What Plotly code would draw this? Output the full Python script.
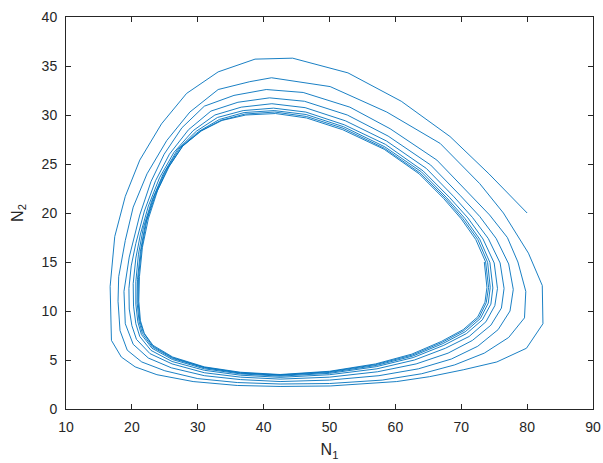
import plotly.graph_objects as go

# Trajectory (N1, N2), one list per revolution
loop1 = [(80.0, 20.0), (74.2, 24.0), (68.3, 27.8), (60.9, 31.4), (52.8, 34.3), (44.4, 35.8),
         (38.7, 35.7), (33.1, 34.4), (28.3, 32.2), (24.5, 29.1), (21.2, 25.4), (19.0, 21.7),
         (17.4, 17.6), (16.7, 12.5), (16.9, 7.0), (18.4, 5.3), (20.5, 4.3), (23.8, 3.5),
         (29.3, 2.8), (36.0, 2.4), (42.5, 2.3), (50.1, 2.35), (60.2, 2.8), (65.2, 3.3),
         (70.3, 4.0), (75.4, 4.8), (79.9, 6.2), (82.4, 8.7), (82.3, 12.6), (80.2, 15.9)]
loop2 = [(76.4, 20.0), (72.8, 23.0), (66.8, 27.1), (58.7, 30.3), (50.1, 32.9), (41.2, 33.8),
         (37.9, 33.4), (33.1, 32.6), (28.8, 30.3), (25.3, 27.4), (22.3, 24.0), (20.2, 20.6),
         (19.0, 17.2), (18.0, 13.5), (17.9, 11.0), (18.2, 8.0), (19.3, 6.0), (21.5, 4.8),
         (25.0, 3.9), (30.0, 3.1), (36.0, 2.7), (42.5, 2.55), (50.0, 2.6), (58.0, 2.95),
         (64.0, 3.6), (69.0, 4.5), (73.5, 5.7), (77.2, 7.3), (79.6, 9.3), (79.8, 12.0), (78.6, 15.0)]
loop3 = [(77.0, 17.5), (74.3, 19.8), (71.3, 21.9), (66.3, 25.4), (59.2, 28.6), (53.1, 30.8),
         (46.0, 32.3), (40.4, 32.6), (35.5, 32.0), (31.0, 30.9), (27.6, 28.7), (24.9, 26.0),
         (22.9, 23.2), (21.2, 19.8), (19.6, 15.5), (18.8, 12.0), (19.0, 8.7), (20.2, 6.6),
         (22.5, 5.2), (26.0, 4.2), (31.0, 3.4), (36.5, 3.0), (42.5, 2.8), (50.0, 2.95),
         (57.5, 3.4), (63.5, 4.1), (68.5, 5.1), (72.5, 6.4), (75.6, 8.1), (77.4, 10.0),
         (77.9, 12.2), (77.2, 14.8)]
loop4 = [(75.3, 17.4), (72.8, 19.65), (69.9, 21.75), (65.35, 24.9), (58.9, 27.85), (52.7, 30.0),
         (46.2, 31.4), (40.9, 31.75), (36.1, 31.3), (32.0, 30.4), (28.6, 28.5), (25.7, 26.0),
         (23.6, 23.3), (21.9, 20.2), (20.6, 16.9), (19.9, 14.6), (19.55, 12.3), (19.6, 10.2),
         (20.0, 8.5), (20.7, 7.1), (22.75, 5.65), (26.1, 4.6), (31.0, 3.7), (36.5, 3.25),
         (42.5, 3.05), (50.0, 3.25), (57.3, 3.8), (63.15, 4.6), (68.0, 5.7), (71.7, 7.0),
         (74.5, 8.55), (76.1, 10.3), (76.5, 12.3), (75.9, 14.9)]
loop5 = [(74.1, 17.4), (71.7, 19.55), (68.9, 21.65), (64.7, 24.55), (58.65, 27.35), (52.45, 29.4),
         (46.3, 30.75), (41.25, 31.15), (36.6, 30.8), (32.6, 30.0), (29.3, 28.4), (26.4, 26.2),
         (24.2, 23.6), (22.5, 20.7), (21.3, 17.85), (20.6, 15.4), (20.2, 12.8), (20.25, 10.5),
         (20.6, 8.7), (21.2, 7.4), (22.9, 5.98), (26.1, 4.85), (31.0, 3.95), (36.5, 3.45),
         (42.5, 3.23), (50.0, 3.5), (57.2, 4.1), (62.9, 5.0), (67.6, 6.2), (71.2, 7.4),
         (73.75, 8.9), (75.1, 10.55), (75.5, 12.3), (75.0, 14.9)]
loop6 = [(73.3, 17.35), (71.0, 19.5), (68.2, 21.6), (64.2, 24.3), (58.5, 27.0), (52.25, 29.0),
         (46.4, 30.3), (41.5, 30.7), (36.9, 30.45), (33.0, 29.75), (29.8, 28.35), (26.9, 26.45),
         (24.7, 23.9), (23.0, 21.2), (21.75, 18.5), (21.0, 15.8), (20.6, 13.0), (20.6, 10.7),
         (20.9, 8.9), (21.45, 7.6), (23.05, 6.2), (26.15, 5.05), (31.0, 4.1), (36.5, 3.58),
         (42.5, 3.35), (50.0, 3.64), (57.1, 4.32), (62.7, 5.25), (67.35, 6.5), (70.8, 7.7),
         (73.2, 9.1), (74.5, 10.7), (74.8, 12.35), (74.35, 14.95)]
loop7 = [(72.8, 17.33), (70.55, 19.45), (67.8, 21.55), (63.95, 24.2), (58.4, 26.75), (52.15, 28.8),
         (46.45, 30.05), (41.6, 30.45), (37.05, 30.25), (33.3, 29.55), (30.1, 28.3), (27.3, 26.65),
         (25.1, 24.3), (23.3, 21.6), (22.05, 18.9), (21.3, 16.1), (20.85, 13.2), (20.8, 10.8),
         (21.1, 8.9), (21.6, 7.7), (23.1, 6.33), (26.17, 5.16), (31.0, 4.2), (36.5, 3.65),
         (42.5, 3.43), (50.0, 3.73), (57.07, 4.44), (62.63, 5.4), (67.2, 6.67), (70.6, 7.88),
         (72.9, 9.23), (74.1, 10.8), (74.4, 12.4), (74.0, 14.97)]
loop8 = [(72.5, 17.31), (70.25, 19.42), (67.55, 21.52), (63.75, 24.08), (58.35, 26.6), (52.05, 28.65),
         (46.5, 29.85), (41.7, 30.3), (37.2, 30.1), (33.5, 29.45), (30.4, 28.35), (27.6, 26.75),
         (25.4, 24.5), (23.6, 21.9), (22.25, 19.2), (21.45, 16.3), (21.0, 13.4), (20.95, 10.9),
         (21.2, 9.0), (21.75, 7.8), (23.15, 6.42), (26.2, 5.23), (31.0, 4.25), (36.5, 3.7),
         (42.5, 3.48), (50.0, 3.8), (57.0, 4.53), (62.55, 5.5), (67.1, 6.8), (70.4, 8.0),
         (72.7, 9.33), (73.8, 10.85), (74.15, 12.4), (73.7, 15.0)]
loop9 = [(72.2, 17.3), (70.0, 19.4), (67.3, 21.5), (63.6, 24.0), (58.3, 26.5), (52.0, 28.5),
         (46.5, 29.7), (41.8, 30.15), (37.3, 30.0), (33.7, 29.45), (30.6, 28.4), (27.8, 26.9),
         (25.7, 24.8), (23.9, 22.3), (22.5, 19.4), (21.6, 16.5), (21.15, 13.5), (21.05, 11.0),
         (21.3, 9.0), (21.9, 7.7), (23.2, 6.5), (26.2, 5.3), (31.0, 4.3), (36.5, 3.75),
         (42.5, 3.52), (50.0, 3.85), (57.0, 4.6), (62.5, 5.6), (67.0, 6.9), (70.3, 8.1),
         (72.5, 9.4), (73.6, 10.9), (73.9, 12.4), (73.5, 15.0)]

loops = [loop1, loop2, loop3, loop4, loop5, loop6, loop7, loop8, loop9]

x_ticks = [10, 20, 30, 40, 50, 60, 70, 80, 90]
y_ticks = [0, 5, 10, 15, 20, 25, 30, 35, 40]

N1 = [p[0] for lp in loops for p in lp]
N2 = [p[1] for lp in loops for p in lp]

FONT = "Liberation Sans, Arial, sans-serif"
INK = "#262626"

fig = go.Figure()
fig.add_trace(go.Scatter(x=N1, y=N2, mode="lines",
                         line=dict(color="#0072BD", width=0.9), showlegend=False,
                         hoverinfo="skip"))

axis_common = dict(showline=True, linecolor=INK, linewidth=1, mirror="ticks",
                   ticks="inside", ticklen=5, tickcolor=INK, tickwidth=1,
                   showgrid=False, zeroline=False, automargin=False,
                   tickfont=dict(family=FONT, size=14, color=INK))

fig.update_xaxes(range=[10, 90], tickvals=x_ticks, ticktext=[str(v) for v in x_ticks],
                 ticklabelstandoff=5,
                 title=dict(text="N<sub>1</sub>", standoff=10,
                            font=dict(family=FONT, size=16, color=INK)),
                 **axis_common)
fig.update_yaxes(range=[0, 40], tickvals=y_ticks, ticktext=[str(v) for v in y_ticks],
                 ticklabelstandoff=5,
                 title=dict(text="N<sub>2</sub>", standoff=14,
                            font=dict(family=FONT, size=16, color=INK)),
                 **axis_common)

fig.update_layout(width=603, height=463, margin=dict(l=66, r=10, t=17, b=54, autoexpand=False),
                  plot_bgcolor="white", paper_bgcolor="white")

# remove the browser's default 8px body margin so the figure fills the window exactly
fig.write_html("out.html", config={"displayModeBar": False},
               post_script="document.body.style.margin='0';document.body.style.overflow='hidden';")
